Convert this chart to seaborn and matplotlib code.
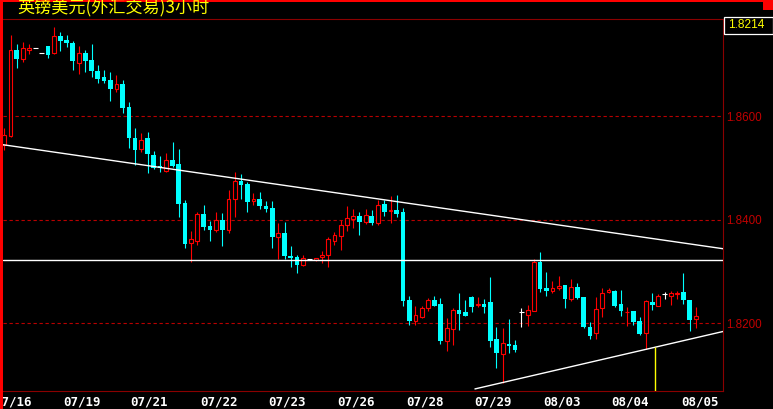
import numpy as np
import pandas as pd
import matplotlib
matplotlib.use("Agg")
import matplotlib.pyplot as plt
import seaborn as sns
from matplotlib.patches import Rectangle

# ---------------- data ----------------
title = "英镑美元(外汇交易)3小时"
date_labels = ["07/16", "07/19", "07/21", "07/22", "07/23", "07/26",
               "07/28", "07/29", "08/03", "08/04", "08/05"]
date_label_pos = [1.4, 12.4, 23.3, 34.4, 45.4, 56.5, 67.5, 78.4, 89.5, 100.5, 111.6]

opens = [1.8545, 1.8562, 1.8728, 1.8711, 1.8728, 1.8731, 1.8722, 1.8736, 1.8722, 1.8755,
         1.8747, 1.8742, 1.8703, 1.8722, 1.8709, 1.8688, 1.8676, 1.8670, 1.8653, 1.8662,
         1.8618, 1.8558, 1.8537, 1.8558, 1.8525, 1.8504, 1.8494, 1.8516, 1.8508, 1.8433,
         1.8355, 1.8359, 1.8411, 1.8388, 1.8380, 1.8400, 1.8380, 1.8440, 1.8475, 1.8469,
         1.8436, 1.8440, 1.8427, 1.8423, 1.8367, 1.8375, 1.8330, 1.8328, 1.8313, 1.8324,
         1.8322, 1.8328, 1.8332, 1.8359, 1.8369, 1.8390, 1.8402, 1.8407, 1.8396, 1.8407,
         1.8394, 1.8431, 1.8417, 1.8419, 1.8415, 1.8245, 1.8205, 1.8212, 1.8230, 1.8245,
         1.8237, 1.8166, 1.8189, 1.8226, 1.8222, 1.8251, 1.8235, 1.8237, 1.8241, 1.8170,
         1.8141, 1.8160, 1.8158, 1.8221, 1.8216, 1.8224, 1.8319, 1.8268, 1.8262, 1.8268,
         1.8274, 1.8247, 1.8270, 1.8251, 1.8193, 1.8181, 1.8230, 1.8261, 1.8262, 1.8237,
         1.8221, 1.8224, 1.8205, 1.8181, 1.8241, 1.8234, 1.8257, 1.8253, 1.8257, 1.8261,
         1.8245, 1.8208]
highs = [1.8577, 1.8757, 1.8740, 1.8744, 1.8740, 1.8731, 1.8722, 1.8736, 1.8773, 1.8763,
         1.8757, 1.8745, 1.8736, 1.8728, 1.8740, 1.8699, 1.8689, 1.8686, 1.8680, 1.8670,
         1.8628, 1.8577, 1.8568, 1.8570, 1.8533, 1.8523, 1.8529, 1.8550, 1.8537, 1.8438,
         1.8378, 1.8415, 1.8429, 1.8398, 1.8415, 1.8413, 1.8458, 1.8492, 1.8489, 1.8473,
         1.8452, 1.8454, 1.8436, 1.8436, 1.8394, 1.8396, 1.8349, 1.8332, 1.8332, 1.8325,
         1.8326, 1.8340, 1.8367, 1.8376, 1.8400, 1.8427, 1.8421, 1.8415, 1.8421, 1.8419,
         1.8438, 1.8438, 1.8446, 1.8448, 1.8423, 1.8253, 1.8234, 1.8234, 1.8249, 1.8253,
         1.8249, 1.8210, 1.8230, 1.8259, 1.8245, 1.8253, 1.8251, 1.8247, 1.8290, 1.8193,
         1.8191, 1.8208, 1.8168, 1.8230, 1.8235, 1.8324, 1.8338, 1.8299, 1.8282, 1.8291,
         1.8274, 1.8286, 1.8278, 1.8251, 1.8203, 1.8251, 1.8268, 1.8268, 1.8264, 1.8264,
         1.8232, 1.8224, 1.8212, 1.8245, 1.8259, 1.8257, 1.8261, 1.8262, 1.8262, 1.8297,
         1.8245, 1.8232]
lows = [1.8535, 1.8560, 1.8693, 1.8705, 1.8720, 1.8731, 1.8722, 1.8713, 1.8720, 1.8726,
        1.8734, 1.8689, 1.8682, 1.8686, 1.8676, 1.8664, 1.8664, 1.8630, 1.8647, 1.8606,
        1.8539, 1.8506, 1.8531, 1.8490, 1.8498, 1.8492, 1.8492, 1.8502, 1.8405, 1.8346,
        1.8319, 1.8351, 1.8380, 1.8359, 1.8376, 1.8349, 1.8375, 1.8405, 1.8440, 1.8415,
        1.8429, 1.8421, 1.8415, 1.8346, 1.8324, 1.8324, 1.8309, 1.8297, 1.8311, 1.8323,
        1.8320, 1.8317, 1.8309, 1.8351, 1.8342, 1.8378, 1.8384, 1.8371, 1.8392, 1.8390,
        1.8390, 1.8407, 1.8394, 1.8405, 1.8234, 1.8197, 1.8197, 1.8210, 1.8224, 1.8234,
        1.8160, 1.8147, 1.8158, 1.8187, 1.8214, 1.8222, 1.8232, 1.8220, 1.8154, 1.8114,
        1.8085, 1.8143, 1.8145, 1.8193, 1.8195, 1.8224, 1.8261, 1.8253, 1.8259, 1.8264,
        1.8230, 1.8243, 1.8247, 1.8191, 1.8170, 1.8170, 1.8212, 1.8259, 1.8232, 1.8214,
        1.8195, 1.8197, 1.8177, 1.8150, 1.8226, 1.8234, 1.8247, 1.8235, 1.8247, 1.8237,
        1.8185, 1.8191]
closes = [1.8564, 1.8728, 1.8711, 1.8732, 1.8732, 1.8731, 1.8722, 1.8718, 1.8755, 1.8745,
          1.8742, 1.8707, 1.8722, 1.8707, 1.8688, 1.8672, 1.8668, 1.8653, 1.8662, 1.8616,
          1.8558, 1.8535, 1.8554, 1.8527, 1.8500, 1.8500, 1.8516, 1.8504, 1.8431, 1.8353,
          1.8363, 1.8411, 1.8386, 1.8380, 1.8400, 1.8380, 1.8440, 1.8475, 1.8467, 1.8434,
          1.8440, 1.8427, 1.8421, 1.8367, 1.8375, 1.8330, 1.8326, 1.8313, 1.8326, 1.8324,
          1.8326, 1.8332, 1.8363, 1.8371, 1.8390, 1.8404, 1.8407, 1.8396, 1.8409, 1.8394,
          1.8429, 1.8415, 1.8419, 1.8411, 1.8243, 1.8205, 1.8216, 1.8230, 1.8245, 1.8234,
          1.8166, 1.8191, 1.8226, 1.8218, 1.8214, 1.8232, 1.8237, 1.8232, 1.8166, 1.8143,
          1.8162, 1.8156, 1.8149, 1.8221, 1.8226, 1.8319, 1.8266, 1.8262, 1.8268, 1.8272,
          1.8247, 1.8270, 1.8249, 1.8193, 1.8176, 1.8228, 1.8259, 1.8264, 1.8234, 1.8224,
          1.8222, 1.8203, 1.8179, 1.8243, 1.8235, 1.8253, 1.8257, 1.8259, 1.8259, 1.8245,
          1.8206, 1.8214]

y_ticks = [1.82, 1.84, 1.86]
last_price = 1.8214
hline_level = 1.8322
down_trend_x = [-0.21, 115.37]
down_trend_y = [1.8545, 1.8344]
up_trend_x = [75.55, 115.37]
up_trend_y = [1.8073, 1.8184]
marker_x = 104.5
marker_top = 1.8155

# ---------------- style ----------------
RED = "#ff0000"
CYAN = "#00ffff"
WHITE = "#ffffff"
DARKRED = "#8b0000"
GRIDRED = "#b80000"
YELLOW = "#ffff00"
NUMFONT = ["Liberation Sans", "DejaVu Sans"]

sns.set_style("dark", {"axes.facecolor": "black", "figure.facecolor": "black",
                       "axes.edgecolor": DARKRED, "grid.color": "black"})
plt.rcParams['font.family'] = ['DejaVu Sans']

W, H = 773, 409
fig = plt.figure(figsize=(W / 100, H / 100), dpi=100, facecolor="black")
ax = fig.add_axes([3 / W, 18 / H, 720 / W, 372 / H])
ax.set_facecolor("black")
ax.grid(False)

df = pd.DataFrame({"idx": np.arange(len(opens)), "open": opens, "high": highs,
                   "low": lows, "close": closes})
up = df.close > df.open
down = df.close < df.open
flat = df.close == df.open
colors = np.where(up, RED, np.where(down, CYAN, WHITE))

# gridlines
for yt in y_ticks:
    ax.axhline(yt, color=GRIDRED, lw=0.8, ls=(0, (3.0, 2.4)), zorder=1)

# wicks and bodies
ax.vlines(df.idx, df.low, df.high, colors=colors, lw=0.8, zorder=3)
d = df[down]
ax.bar(d.idx, d.open - d.close, bottom=d.close, width=0.76, color=CYAN,
       edgecolor=CYAN, lw=0.0, zorder=4)
u = df[up]
ax.bar(u.idx, u.close - u.open, bottom=u.open, width=0.62, facecolor="black",
       edgecolor=RED, lw=0.8, zorder=4)
f = df[flat]
ax.hlines(f.open, f.idx - 0.38, f.idx + 0.38, colors=WHITE, lw=0.8, zorder=4)

# lines
ax.axhline(hline_level, color=WHITE, lw=1.0, zorder=5)
sns.lineplot(x=down_trend_x, y=down_trend_y, color=WHITE, lw=1.0, ax=ax, zorder=5)
sns.lineplot(x=up_trend_x, y=up_trend_y, color=WHITE, lw=1.0, ax=ax, zorder=5)
ax.vlines(marker_x, 1.8060, marker_top, colors=YELLOW, lw=1.0, zorder=5)

ax.set_xlim(-0.21, 115.37)
ax.set_ylim(1.8069, 1.8788)

for s in ["top", "right", "bottom"]:
    ax.spines[s].set_color(DARKRED)
    ax.spines[s].set_linewidth(0.8)
    ax.spines[s].set_visible(True)
ax.spines["left"].set_visible(False)

ax.yaxis.tick_right()
ax.set_yticks(y_ticks)
ax.set_yticklabels([f"{v:.4f}" for v in y_ticks])
ax.tick_params(axis="y", length=0, pad=2.3, colors="#c00000", labelsize=8.4)
for t in ax.get_yticklabels():
    t.set_fontfamily(NUMFONT)
ax.set_xticks(date_label_pos)
ax.set_xticklabels(date_labels)
ax.tick_params(axis="x", length=0, pad=3.5, colors=WHITE, labelsize=9)
for t in ax.get_xticklabels():
    t.set_fontfamily(["DejaVu Sans Mono"])
    t.set_fontweight("bold")
ax.set_xlabel("")
ax.set_ylabel("")

# frame decorations
fig.add_artist(Rectangle((0, 0), 3 / W, 1, transform=fig.transFigure,
                         facecolor=RED, edgecolor="none", zorder=10))
fig.add_artist(Rectangle((0, 1 - 2 / H), 1, 2 / H, transform=fig.transFigure,
                         facecolor=RED, edgecolor="none", zorder=10))
fig.add_artist(Rectangle((763 / W, 1 - 10 / H), 10 / W, 10 / H, transform=fig.transFigure,
                         facecolor=RED, edgecolor="none", zorder=10))
fig.add_artist(Rectangle((723.5 / W, 1 - 33.5 / H), 49 / W, 16.5 / H, transform=fig.transFigure,
                         facecolor="black", edgecolor=WHITE, lw=0.9, zorder=10))
fig.text(728 / W, 1 - 25.3 / H, f"{last_price:.4f}", color=YELLOW, fontsize=8.6,
         family=NUMFONT, va="center", ha="left", zorder=11)
fig.text(17 / W, 1 - 8 / H, title, color=YELLOW, fontsize=12.3,
         family=["Noto Sans CJK SC", "DejaVu Sans"], va="center", ha="left", zorder=11)

fig.savefig("out.png", dpi=100, facecolor="black")
